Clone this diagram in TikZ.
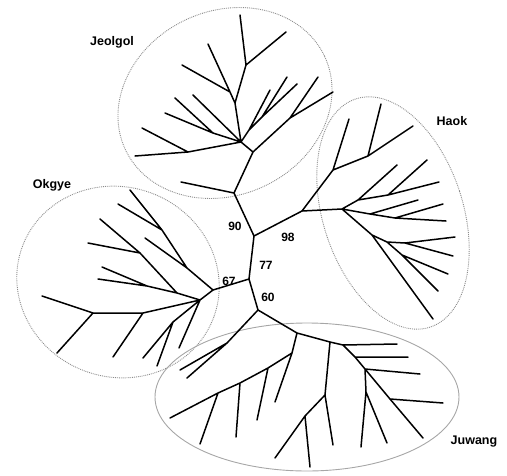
\documentclass[tikz,border=0pt]{standalone}
\usepackage{fontspec}
\setmainfont{Liberation Sans}
\begin{document}
\begin{tikzpicture}[x=1pt,y=-1pt,
  br/.style={line width=1.5pt,line cap=round,line join=round,black},
  grp/.style={densely dotted,gray!90,line width=0.9pt},
  grpsolid/.style={gray!70,line width=0.9pt},
  lab/.style={font=\fontsize{12.5}{14}\selectfont\bfseries,inner sep=0pt},
  num/.style={font=\fontsize{12}{13}\selectfont\bfseries,inner sep=0pt}]
\useasboundingbox (0,0) rectangle (507,475);
% group outlines
\draw[grp,rotate around={25:(225,103)}] (225,103) ellipse [x radius=110,y radius=92];
\draw[grp,rotate around={18:(393,213)}] (393,213) ellipse [x radius=70,y radius=120];
\draw[grp,rotate around={-20:(118,282)}] (118,282) ellipse [x radius=102,y radius=95];
\draw[grpsolid] (307,397) ellipse [x radius=152,y radius=74];
% centre
\coordinate (A) at (234,193);
\coordinate (B) at (254,236);
\coordinate (K) at (302,211);
\coordinate (C) at (249,279);
\coordinate (O0) at (213,290);
\coordinate (X) at (258,310);
\draw[br] (A)--(B) (B)--(K) (B)--(C) (C)--(O0) (C)--(X);
% Jeolgol
\coordinate (D) at (253,152);
\coordinate (F) at (290,118);
\coordinate (E) at (241,142);
\coordinate (H) at (188,152);
\coordinate (H2) at (213,133);
\coordinate (G) at (235,103);
\coordinate (J) at (230,92);
\coordinate (I) at (246,65);
\coordinate (e1) at (249,130);
\coordinate (e2) at (262,117);
\coordinate (j1) at (181,182);
\coordinate (j2) at (318,77);
\coordinate (j3) at (333,92);
\coordinate (j4) at (135,156);
\coordinate (j5) at (142,128);
\coordinate (j6) at (165,113);
\coordinate (j7) at (175,98);
\coordinate (j8) at (193,95);
\coordinate (j9) at (208,44);
\coordinate (j10) at (182,65);
\coordinate (j11) at (240,15);
\coordinate (j12) at (286,32);
\coordinate (j13) at (270,90);
\coordinate (j14) at (287,77);
\coordinate (j15) at (297,84);
\draw[br] (A)--(j1) (A)--(D) (D)--(F) (F)--(j2) (F)--(j3) (D)--(E)
  (E)--(H) (H)--(j4) (H)--(j5) (E)--(H2) (H2)--(j6) (H2)--(j7) (E)--(j8)
  (E)--(G) (G)--(J) (J)--(j9) (J)--(j10) (G)--(I) (I)--(j11) (I)--(j12)
  (E)--(e1) (e1)--(j13) (e1)--(e2) (e2)--(j14) (e2)--(j15);
% Haok
\coordinate (L) at (342,209);
\coordinate (M) at (333,170);
\coordinate (N) at (368,156);
\coordinate (Oh) at (358,200);
\coordinate (P) at (388,195);
\coordinate (Q) at (370,214);
\coordinate (R) at (395,218);
\coordinate (S) at (372,235);
\coordinate (T) at (387,242);
\coordinate (U) at (405,243);
\coordinate (V) at (402,255);
\coordinate (h1) at (349,119);
\coordinate (h2) at (381,104);
\coordinate (h3) at (413,126);
\coordinate (h4) at (397,165);
\coordinate (h5) at (427,160);
\coordinate (h6) at (439,182);
\coordinate (h7) at (418,200);
\coordinate (h8) at (443,204);
\coordinate (h9) at (446,221);
\coordinate (h10) at (433,319);
\coordinate (h11) at (455,237);
\coordinate (h12) at (453,256);
\coordinate (h13) at (448,274);
\coordinate (h14) at (438,291);
\draw[br] (K)--(L) (K)--(M) (M)--(h1) (M)--(N) (N)--(h2) (N)--(h3)
  (L)--(Oh) (Oh)--(h4) (Oh)--(P) (P)--(h5) (P)--(h6)
  (L)--(Q) (Q)--(h7) (Q)--(R) (R)--(h8) (R)--(h9)
  (L)--(S) (S)--(h10) (S)--(T) (T)--(U) (U)--(h11) (U)--(h12)
  (T)--(V) (V)--(h13) (V)--(h14);
% Okgye
\coordinate (O1) at (187,268);
\coordinate (O2) at (162,230);
\coordinate (O3) at (200,300);
\coordinate (P1) at (177,293);
\coordinate (Pn) at (140,253);
\coordinate (P2) at (147,286);
\coordinate (Q1) at (143,313);
\coordinate (Q2) at (93,313);
\coordinate (R1) at (173,322);
\coordinate (o1) at (130,190);
\coordinate (o2) at (118,204);
\coordinate (o3) at (145,238);
\coordinate (o4) at (100,219);
\coordinate (o5) at (88,243);
\coordinate (o6) at (102,267);
\coordinate (o7) at (98,279);
\coordinate (o8) at (42,296);
\coordinate (o9) at (57,353);
\coordinate (o10) at (113,357);
\coordinate (o11) at (143,358);
\coordinate (o12) at (157,366);
\coordinate (o13) at (179,348);
\draw[br] (O0)--(O1) (O1)--(O2) (O2)--(o1) (O2)--(o2) (O1)--(o3)
  (O0)--(O3) (O3)--(P1) (P1)--(Pn) (Pn)--(o4) (Pn)--(o5)
  (P1)--(P2) (P2)--(o6) (P2)--(o7)
  (O3)--(Q1) (Q1)--(Q2) (Q2)--(o8) (Q2)--(o9) (Q1)--(o10)
  (O3)--(R1) (R1)--(o11) (R1)--(o12) (O3)--(o13);
% Juwang
\coordinate (Y) at (227,343);
\coordinate (Z) at (297,333);
\coordinate (Z1) at (292,353);
\coordinate (W1) at (268,368);
\coordinate (W2) at (240,383);
\coordinate (W3) at (218,393);
\coordinate (AA) at (330,342);
\coordinate (AB) at (325,395);
\coordinate (AC) at (305,416);
\coordinate (BB) at (343,345);
\coordinate (CC) at (355,357);
\coordinate (DD) at (365,369);
\coordinate (DD2) at (366,392);
\coordinate (EE) at (390,399);
\coordinate (u1) at (180,370);
\coordinate (u2) at (187,378);
\coordinate (u3) at (275,402);
\coordinate (u4) at (257,420);
\coordinate (u5) at (236,437);
\coordinate (u6) at (200,444);
\coordinate (u7) at (170,418);
\coordinate (u8) at (333,445);
\coordinate (u9) at (275,458);
\coordinate (u10) at (310,467);
\coordinate (u11) at (397,344);
\coordinate (u12) at (408,357);
\coordinate (u13) at (420,374);
\coordinate (u14) at (361,447);
\coordinate (u15) at (387,443);
\coordinate (u16) at (443,403);
\coordinate (u17) at (423,438);
\draw[br] (X)--(Y) (Y)--(u1) (Y)--(u2) (X)--(Z) (Z)--(Z1) (Z1)--(u3)
  (Z1)--(W1) (W1)--(u4) (W1)--(W2) (W2)--(u5) (W2)--(W3) (W3)--(u6) (W3)--(u7)
  (Z)--(AA) (AA)--(AB) (AB)--(u8) (AB)--(AC) (AC)--(u9) (AC)--(u10)
  (AA)--(BB) (BB)--(u11) (BB)--(CC) (CC)--(u12) (CC)--(DD) (DD)--(u13)
  (DD)--(DD2) (DD2)--(u14) (DD2)--(u15) (DD)--(EE) (EE)--(u16) (EE)--(u17);
% labels
\node[lab] (tJ) at (112,42) {Jeolgol};
\node[lab] (tH) at (452,121) {Haok};
\node[lab] (tO) at (52,185) {Okgye};
\node[lab] (tW) at (474,442) {Juwang};
\node[num] (n90) at (235,226) {90};
\node[num] (n98) at (288,237) {98};
\node[num] (n77) at (266,265) {77};
\node[num] (n67) at (229,281) {67};
\node[num] (n60) at (268,297) {60};
\end{tikzpicture}
\end{document}
